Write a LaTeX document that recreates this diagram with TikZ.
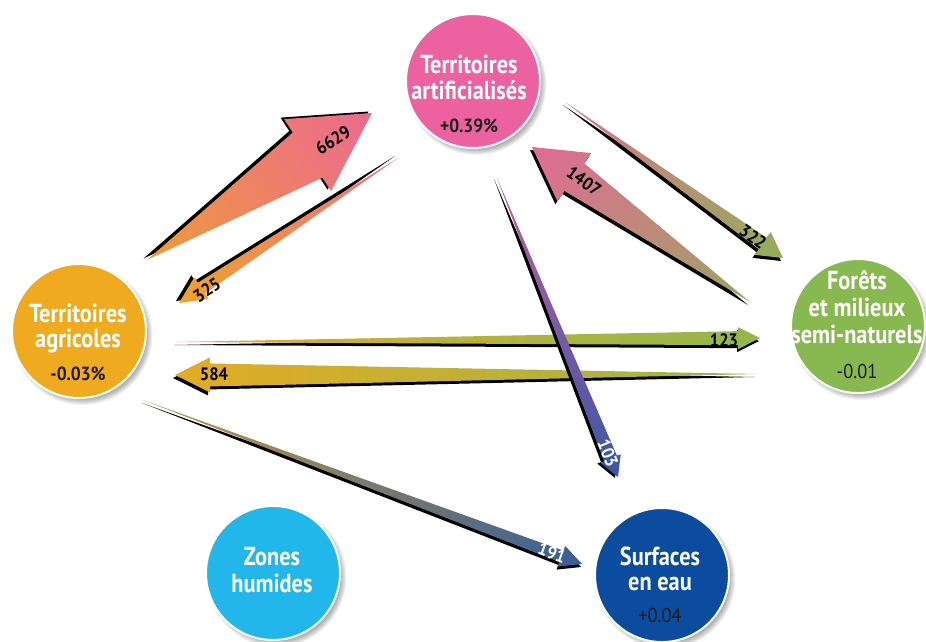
\documentclass[tikz,border=0pt]{standalone}
\usepackage{fontspec}
\newfontfamily\cf{PT Sans}[FakeStretch=0.86]
\newfontfamily\cfn{PT Sans}[FakeStretch=0.92]
\usetikzlibrary{calc}
\definecolor{pinkc}{HTML}{EC619F}
\definecolor{orangec}{HTML}{EFAA1F}
\definecolor{greenc}{HTML}{88B850}
\definecolor{bluec}{HTML}{0B4C9E}
\definecolor{lbluec}{HTML}{22B6EA}
\definecolor{arrblue}{HTML}{2155A8}
\definecolor{valc}{HTML}{1C1C1C}
% geometry: name, tail x, tail y, tip x, tip y, head length, shaft half width, head half width
\newcommand\flowgeom[8]{%
  \coordinate (#1-T) at (#2,#3);
  \coordinate (#1-P) at (#4,#5);
  \coordinate (#1-B) at ($(#1-P)!#6pt!(#1-T)$);
  \coordinate (#1-s1) at ($(#1-B)!#7pt!90:(#1-P)$);
  \coordinate (#1-s2) at ($(#1-B)!#7pt!-90:(#1-P)$);
  \coordinate (#1-h1) at ($(#1-B)!#8pt!90:(#1-P)$);
  \coordinate (#1-h2) at ($(#1-B)!#8pt!-90:(#1-P)$);
  \pgfmathsetmacro\tmpa{atan2(#3-#5,#4-#2)}%
  \pgfmathsetmacro\tmpl{veclen(#4-#2,#5-#3)}%
  \expandafter\xdef\csname fang#1\endcsname{\tmpa}%
  \expandafter\xdef\csname flen#1\endcsname{\tmpl}%
  \expandafter\xdef\csname ftx#1\endcsname{#2}%
  \expandafter\xdef\csname fty#1\endcsname{#3}%
}
\newcommand\flowpath[1]{(#1-T) -- (#1-s1) -- (#1-h1) -- (#1-P) -- (#1-h2) -- (#1-s2) -- cycle}
% drawing: name, shadow xshift, shadow yshift, tail colour, head colour
% the gradient runs from 5% to 80% of the length
\newcommand\flowdraw[5]{%
  \fill[black, transform canvas={xshift=#2pt, yshift=#3pt}] \flowpath{#1};
  \begin{scope}
    \clip \flowpath{#1};
    \begin{scope}[transform canvas={shift={(\csname ftx#1\endcsname,\csname fty#1\endcsname)}, rotate=\csname fang#1\endcsname}]
      \shade[left color=#4, right color=#5]
        ({-0.325*\csname flen#1\endcsname},-80) rectangle ({1.175*\csname flen#1\endcsname},80);
    \end{scope}
  \end{scope}
}
\tikzset{
  circ/.style={circle, minimum size=134pt, inner sep=0pt, draw=white, line width=2pt},
  ttl/.style={anchor=base, text=white, inner sep=0pt, font=\cf\bfseries\fontsize{26}{26}\selectfont},
  valb/.style={anchor=base, text=valc, inner sep=0pt, font=\cfn\bfseries\fontsize{19}{19}\selectfont},
  valr/.style={anchor=base, text=valc, inner sep=0pt, font=\cfn\fontsize{20}{20}\selectfont},
  flab/.style={inner sep=0pt, text=black, font=\cfn\bfseries\fontsize{18}{18}\selectfont},
  csh/.style={fill=black, opacity=0.05},
}
\begin{document}
\begin{tikzpicture}[x=1pt, y=-1pt]
\useasboundingbox (0,0) rectangle (926,641);
\fill[white] (0,0) rectangle (926,641);

% circle shadows
\foreach \cx/\cy in {473/81, 79/331, 858/326, 662/575, 273/573}{
  \foreach \k in {0,...,6}{
    \fill[csh] (\cx+3.5,\cy+4) circle ({64pt+\k*1pt});
  }
}

% circles
\node[circ, fill=pinkc] (artif) at (473,81) {};
\node[circ, fill=orangec] (agri) at (79,331) {};
\node[circ, fill=greenc] (foret) at (858,326) {};
\node[circ, fill=bluec] (surf) at (662,575) {};
\node[circ, fill=lbluec] (zones) at (273,573) {};

\node[ttl] (artif-1) at (469,73) {Territoires};
\node[ttl] (artif-2) at (469,99) {artificialisés};
\node[valb] (artif-3) at (469,132) {+0.39\%};

\node[ttl] (agri-1) at (78,322) {Territoires};
\node[ttl] (agri-2) at (78,347) {agricoles};
\node[valb] (agri-3) at (78,380) {-0.03\%};

\node[ttl] (foret-1) at (857,289) {Forêts};
\node[ttl] (foret-2) at (857,316) {et milieux};
\node[ttl] (foret-3) at (857,343) {semi-naturels};
\node[valr] (foret-4) at (857,378) {-0.01};

\node[ttl] (surf-1) at (660,565) {Surfaces};
\node[ttl] (surf-2) at (660,590) {en eau};
\node[valr] (surf-3) at (660,622) {+0.04};

\node[ttl] (zones-1) at (272,565) {Zones};
\node[ttl] (zones-2) at (272,592) {humides};

% flows
\flowgeom{a6629}{147}{260}{372}{113}{77}{27}{43}
\flowgeom{a325}{398}{158}{179}{303}{27}{6.5}{13}
\flowgeom{a1407}{750}{302}{532}{147}{52}{17}{29.5}
\flowgeom{a322}{565}{102}{783}{258}{25}{7}{14}
\flowgeom{a123}{175}{342}{760}{338}{22}{7}{11}
\flowgeom{a584}{757}{374}{175}{375}{35}{11.5}{17.5}
\flowgeom{a191}{143}{400}{582}{564}{22}{6}{11}
\flowgeom{a103}{497}{178}{618}{477}{20}{7}{11}

\flowdraw{a6629}{-3.5}{1.5}{orangec}{pinkc}
\flowdraw{a325}{-3}{2}{pinkc}{orangec}
\flowdraw{a1407}{-2}{-3}{greenc}{pinkc}
\flowdraw{a322}{-2}{-3}{pinkc}{greenc}
\flowdraw{a123}{-1}{-3}{orangec}{greenc}
\flowdraw{a584}{-2}{-3}{greenc}{orangec}
\flowdraw{a191}{-1}{-3}{orangec}{arrblue}
\flowdraw{a103}{-3}{-1}{pinkc}{arrblue}

% flow labels
\node[flab, rotate=33] (l6629) at (333,140) {6629};
\node[flab, rotate=33.5] (l325) at (207,290) {325};
\node[flab, rotate=-35.4] (l1407) at (584,181) {1407};
\node[flab, rotate=-35.6] (l322) at (753,237) {322};
\node[flab] (l123) at (724,340) {123};
\node[flab] (l584) at (214,374) {584};
\node[flab, text=white, rotate=-20.5] (l191) at (552,553) {191};
\node[flab, text=white, rotate=-67.6] (l103) at (608,453) {103};
\end{tikzpicture}
\end{document}
